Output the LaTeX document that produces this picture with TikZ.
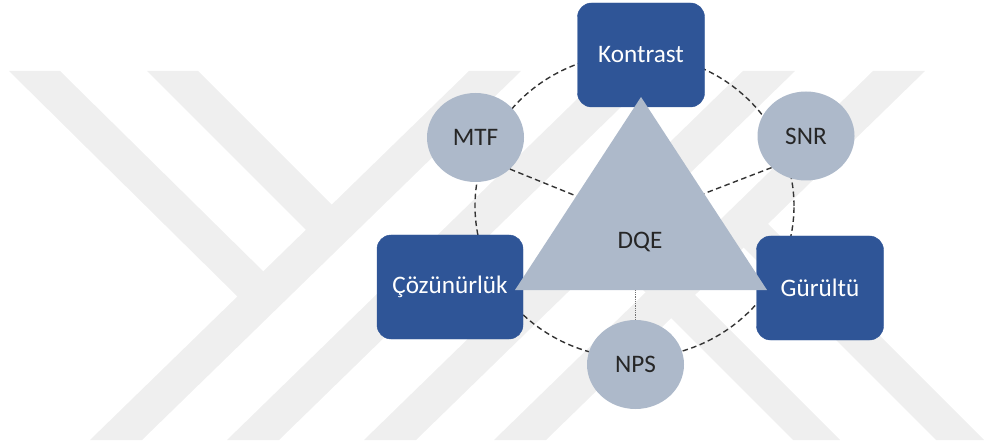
\documentclass[tikz,border=0pt]{standalone}
\usepackage{fontspec}
\setmainfont{Carlito}
\usetikzlibrary{shapes.geometric}
\definecolor{boxblue}{HTML}{2F5597}
\definecolor{paleblue}{HTML}{ADB9CA}
\definecolor{markgray}{HTML}{EFEFEF}
\definecolor{inkgray}{HTML}{262626}
\tikzset{
  label font/.style={font=\fontsize{25.2}{30}\selectfont},
  param/.style={ellipse,fill=paleblue,minimum width=97pt,minimum height=89pt,inner sep=0pt,text=inkgray,label font},
  factor/.style={rectangle,rounded corners=14pt,fill=boxblue,draw=boxblue,minimum height=104pt,inner sep=0pt,text=white,label font},
  link/.style={dash pattern=on 5.5pt off 3.5pt,line width=1.4pt,draw=black!80},
  thread/.style={densely dotted,line width=0.8pt,draw=black!55},
}
\begin{document}
\begin{tikzpicture}[x=1pt,y=-1pt]
\useasboundingbox (0,0) rectangle (984,446);

% background stripes
\foreach \c in {530,667,804,934}
  \fill[markgray] ({\c-61},71) -- ({\c-9},71) -- ({\c+52-440},440) -- ({\c-440},440) -- cycle;
\fill[markgray] (9,71) -- (60,71) -- (268.5,276.5) -- (243,302) -- cycle;
\fill[markgray] (147,71) -- (198,71) -- (336,209) -- (310.5,234.5) -- cycle;
\fill[markgray] (622.5,222.5) -- (840,440) -- (793,440) -- (599,246) -- cycle;
\fill[markgray] (759.5,215.5) -- (984,440) -- (936,440) -- (735.5,239.5) -- cycle;

% ring
\node[ellipse,draw,link,minimum width=319pt,minimum height=304pt] at (634.5,206) (ring) {};

   \node[param] at (475.5,137.5) (MTF) {MTF};
   \node[param] at (806,136)   (SNR) {SNR};
   \node[param] at (635.5,364.5) (NPS) {NPS};

   \node[factor,minimum width=127pt] at (641,55)  (Kontrast) {Kontrast};
   \node[factor,minimum width=146pt] at (450,287) (Coz) {Çözünürlük};
   \node[factor,minimum width=127pt] at (820,288) (Gur) {Gürültü};

   \coordinate (hub) at (635.5,220);
   \draw[link] (MTF.south east) -- (hub);
   \draw[link] (SNR.south west) -- (hub);
   \draw[thread] (NPS.north) -- (NPS |- hub);

   \coordinate (apex) at (641,97);
   \coordinate (baseL) at (515,290);
   \coordinate (baseR) at (767,290);
   \fill[paleblue] (apex) -- (baseR) -- (baseL) -- cycle;
   \node[text=inkgray,label font] at (640,242) (DQE) {DQE};

\end{tikzpicture}
\end{document}
